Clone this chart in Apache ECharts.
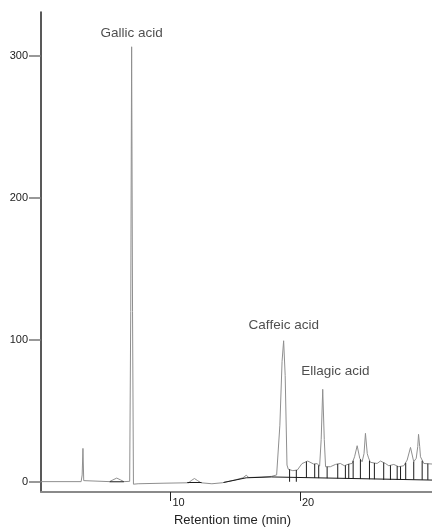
<!DOCTYPE html>
<html>
<head>
<meta charset="utf-8">
<script src="https://cdn.jsdelivr.net/npm/echarts@6/dist/echarts.min.js"></script>
<style>
html,body{margin:0;padding:0;background:#fff;}
#main{width:432px;height:527px;}
</style>
</head>
<body>
<div id="main"></div>
<script>
// chromatogram trace (retention time in min, signal)
var times = [0, 3.1, 3.18, 3.24, 3.3, 3.4, 5.3, 5.55, 5.85, 6.15, 6.4, 6.85, 6.93, 7.0, 7.07, 7.14, 7.5, 9.5,
	11.4, 11.6, 11.85, 12.1, 12.35, 13.2, 14.0, 14.5, 15.0, 15.6, 15.85, 16.05, 17.0, 17.8, 18.2, 18.45, 18.62, 18.74, 18.86,
	19.0, 19.1, 19.45, 19.8, 20.16, 20.6, 21.06, 21.32, 21.52, 21.64, 21.76, 21.88, 21.98, 22.35, 22.74, 23.12, 23.43,
	23.77, 24.03, 24.22, 24.42, 24.62, 24.8, 24.95, 25.06, 25.2, 25.3, 25.44, 25.96, 26.22, 26.6, 26.86, 27.25, 27.63,
	28.02, 28.28, 28.54, 28.79, 28.98, 29.1, 29.16, 29.25, 29.31, 29.57, 30.2];
var signal = [0.3, 0.3, 5, 23.7, 1, 0.2, 0.3, 1.5, 2.8, 1.5, 0.3, 0.5, 120, 306.5, 120, -1.5, -1.2, -0.8,
	-0.5, 1, 2.5, 1, -0.5, -1.2, -0.5, 0.5, 1.5, 3, 4.8, 3.2, 3.5, 4, 5, 40, 85, 99.5, 75,
	12, 9, 8, 8.5, 13, 14.8, 12.7, 13, 11.3, 30, 65.3, 30, 10.8, 10.8, 12.4, 13.1, 11.5,
	12.7, 13.1, 17.8, 25.6, 16.7, 14.3, 20, 34.3, 20, 17, 13.9, 13.1, 14.8, 13.1, 11.5, 12.4, 10.8,
	11.5, 15.5, 24.4, 14.3, 16.7, 25, 33.6, 25, 17.8, 13.1, 12.7];

// integration drop lines
var dropTimes = [19.2, 19.72, 20.5, 21.14, 21.45, 22.1, 22.92, 23.51, 23.77, 24.11, 24.67, 25.37, 25.75, 26.47, 26.99, 27.51, 27.77, 28.17, 28.79, 29.44, 29.88];
var dropTops  = [9, 8.5, 14.5, 12.8, 11.8, 10.8, 12.8, 11.8, 12.7, 15, 16, 15, 13.4, 13.7, 11.8, 11.3, 11, 13.5, 14.3, 15, 13];
var dropBases = [0.2, 0.2, 3.0, 2.9, 2.8, 2.7, 2.5, 2.4, 2.3, 2.3, 2.2, 2.0, 2.0, 1.5, 1.5, 1.5, 1.5, 1.8, 1.7, 1.6, 1.5];

// integration baselines
var baseSegments = [
	[[5.3, 0.2], [6.4, 0.2]],
	[[11.3, -0.3], [12.4, -0.3]],
	[[14.1, -0.3], [15.85, 3.0], [17.8, 3.6]],
	[[17.8, 3.6], [30.2, 1.4]]
];

// peak names
var peakNames = ['Gallic acid', 'Caffeic acid', 'Ellagic acid'];
var peakLabelT = [7.0, 18.75, 22.74];
var peakLabelV = [316, 110.5, 78];

var yTicks = [0, 100, 200, 300];
var xTicks = [10, 20];

var dom = document.getElementById("main");
var myChart = echarts.init(dom);

var trace = [];
for (var i = 0; i < times.length; i++) {
	trace.push([times[i], signal[i]]);
}
var drops = [];
for (var i = 0; i < dropTimes.length; i++) {
	drops.push([dropTimes[i], dropBases[i], dropTops[i]]);
}
var labels = [];
for (var i = 0; i < peakNames.length; i++) {
	labels.push([peakLabelT[i], peakLabelV[i], peakNames[i]]);
}

var series = [{
	type: 'line',
	data: trace,
	symbol: 'none',
	lineStyle: {color: '#8f8f8f', width: 1},
	z: 2
}];
for (var s = 0; s < baseSegments.length; s++) {
	series.push({
		type: 'line',
		data: baseSegments[s],
		symbol: 'none',
		lineStyle: {color: '#1a1a1a', width: 1},
		z: 3
	});
}
series.push({
	type: 'custom',
	data: drops,
	encode: {x: 0, y: [1, 2]},
	renderItem: function (params, api) {
		var p1 = api.coord([api.value(0), api.value(1)]);
		var p2 = api.coord([api.value(0), api.value(2)]);
		return {
			type: 'line',
			shape: {x1: p1[0], y1: p1[1], x2: p2[0], y2: p2[1]},
			style: {stroke: '#1a1a1a', lineWidth: 1}
		};
	},
	z: 4
});
series.push({
	type: 'scatter',
	data: labels,
	symbolSize: 0,
	label: {
		show: true,
		position: 'inside',
		formatter: function (p) { return p.data[2]; },
		color: '#222',
		fontSize: 13.5,
		fontFamily: 'Liberation Sans, Arial, sans-serif'
	},
	z: 5
});

var option = {
	animation: false,
	backgroundColor: '#fff',
	grid: {left: 41, right: 0, top: 12, bottom: 35, outerBoundsMode: 'none', containLabel: false},
	xAxis: {
		type: 'value',
		min: 0,
		max: 30.2,
		interval: 10,
		name: 'Retention time (min)',
		nameLocation: 'middle',
		nameGap: 22,
		nameTextStyle: {color: '#222', fontSize: 13, fontFamily: 'Liberation Sans, Arial, sans-serif', padding: [0, 8, 0, 0]},
		axisLine: {onZero: false, lineStyle: {color: '#8a8a8a', width: 2}},
		axisTick: {show: true, customValues: xTicks, length: 9, lineStyle: {color: '#222', width: 1}},
		axisLabel: {
			customValues: xTicks,
			align: 'left',
			margin: 5,
			padding: [0, 0, 0, 2],
			color: '#222',
			fontSize: 11,
			fontFamily: 'Liberation Sans, Arial, sans-serif'
		},
		splitLine: {show: false}
	},
	yAxis: {
		type: 'value',
		min: -7,
		max: 331,
		axisLine: {show: true, lineStyle: {color: '#222', width: 1.5}},
		axisTick: {show: true, customValues: yTicks, length: 12, lineStyle: {color: '#777', width: 1.5}},
		axisLabel: {
			customValues: yTicks,
			margin: 13,
			color: '#222',
			fontSize: 11,
			fontFamily: 'Liberation Sans, Arial, sans-serif'
		},
		splitLine: {show: false}
	},
	series: series
};
myChart.setOption(option, true);
</script>
</body>
</html>
